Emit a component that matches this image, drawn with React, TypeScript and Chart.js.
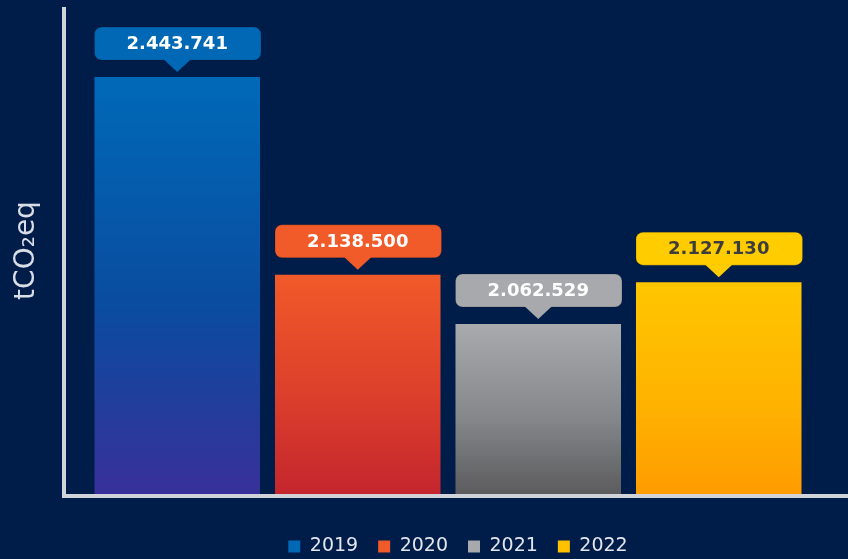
import { useEffect, useRef } from "react";
import { Chart, registerables } from "chart.js";

Chart.register(...registerables);

const categories = ["2019", "2020", "2021", "2022"];
const emissions = [2443741, 2138500, 2062529, 2127130];
const yMin = 1800000;
const yMax = 2552000;
const axisTitle = "tCO₂eq";

const barTopColors = ["#0069b8", "#f15a29", "#a8aaad", "#ffc600"];
const barMidColors = ["#0a4c9f", "#dc3f2b", "#85878a", "#ffb400"];
const barBottomColors = ["#38309a", "#c4262e", "#5c5c5e", "#ff9c00"];
const labelBoxColors = ["#0068b5", "#f15a29", "#a7a9ac", "#ffcc00"];
const labelTextColors = ["#ffffff", "#ffffff", "#ffffff", "#3d3d3d"];
const legendColors = ["#0068b5", "#f15a29", "#a7a9ac", "#ffc200"];

const BG = "#001d4a";
const AXIS = "#d0d3da";

function formatValue(v: number): string {
  return String(v).replace(/\B(?=(\d{3})+(?!\d))/g, ".");
}

const axisLinesPlugin = {
  id: "axisLines",
  beforeDatasetsDraw(chart: any) {
    const { ctx, chartArea } = chart;
    ctx.save();
    ctx.fillStyle = AXIS;
    const xLine = chartArea.left - 25;
    ctx.fillRect(xLine, chartArea.top, 4, chartArea.bottom - chartArea.top + 4);
    ctx.fillRect(xLine, chartArea.bottom, chart.width - xLine, 4);
    ctx.restore();
  },
};

const calloutPlugin = {
  id: "callouts",
  afterDatasetsDraw(chart: any) {
    const { ctx } = chart;
    const meta = chart.getDatasetMeta(0);
    meta.data.forEach((bar: any, i: number) => {
      const { x, y, width } = bar.getProps(["x", "y", "width"], true);
      const left = x - width / 2;
      const boxW = width + 1;
      const top = y - 50;
      const bottom = y - 17;
      const r = 7;
      ctx.save();
      ctx.fillStyle = labelBoxColors[i];
      ctx.strokeStyle = "rgba(0,0,0,0.18)";
      ctx.lineWidth = 1;
      ctx.beginPath();
      ctx.roundRect(left, top, boxW, bottom - top, r);
      ctx.fill();
      ctx.stroke();
      ctx.beginPath();
      ctx.moveTo(x - 14, bottom - 1);
      ctx.lineTo(x + 14, bottom - 1);
      ctx.lineTo(x, y - 5);
      ctx.closePath();
      ctx.fill();
      ctx.fillStyle = labelTextColors[i];
      ctx.font = "bold 18px 'DejaVu Sans'";
      ctx.textAlign = "center";
      ctx.textBaseline = "middle";
      ctx.fillText(formatValue(emissions[i]), x, (top + bottom) / 2 + 1);
      ctx.restore();
    });
  },
};

const legendShiftPlugin = {
  id: "legendShift",
  afterLayout(chart: any) {
    if (chart.legend) {
      chart.legend.left += 10;
      chart.legend.right += 10;
      chart.legend.top += 15;
      chart.legend.bottom += 15;
    }
  },
};

export default function App() {
  const ref = useRef<HTMLCanvasElement | null>(null);

  useEffect(() => {
    if (!ref.current) return;
    const chart = new Chart(ref.current, {
      type: "bar",
      data: {
        labels: categories,
        datasets: [
          {
            label: "tCO2eq",
            data: emissions,
            borderWidth: 0,
            barPercentage: 1,
            categoryPercentage: 0.917,
            backgroundColor: (c: any) => {
              const i = c.dataIndex;
              const chartRef = c.chart;
              const area = chartRef.chartArea;
              const ys = chartRef.scales?.y;
              if (!area || !ys || i === undefined) return barTopColors[i ?? 0];
              const yTop = ys.getPixelForValue(emissions[i]);
              const g = chartRef.ctx.createLinearGradient(0, yTop, 0, area.bottom);
              g.addColorStop(0, barTopColors[i]);
              g.addColorStop(0.55, barMidColors[i]);
              g.addColorStop(1, barBottomColors[i]);
              return g;
            },
          },
        ],
      },
      options: {
        responsive: false,
        animation: false,
        layout: { padding: { top: 7, right: 39, left: 0, bottom: 8 } },
        scales: {
          x: {
            grid: { display: false },
            border: { display: false },
            ticks: { display: false },
          },
          y: {
            min: yMin,
            max: yMax,
            grid: { display: false },
            border: { display: false },
            ticks: { display: false },
            title: {
              display: true,
              text: axisTitle,
              color: "#d9dde6",
              font: { family: "'DejaVu Sans'", size: 28, weight: "normal" },
              padding: { top: 10, bottom: 0 },
            },
            afterFit: (scale: any) => {
              scale.width = 87;
            },
          },
        },
        plugins: {
          tooltip: { enabled: false },
          legend: {
            display: true,
            position: "bottom",
            fullSize: false,
            labels: {
              boxWidth: 12,
              boxHeight: 12,
              padding: 20,
              color: "#e2e6ee",
              font: { family: "'DejaVu Sans'", size: 19, weight: "normal" },
              generateLabels: () =>
                categories.map((cat, i) => ({
                  text: cat,
                  fillStyle: legendColors[i],
                  strokeStyle: legendColors[i],
                  lineWidth: 0,
                  fontColor: "#e2e6ee",
                  hidden: false,
                  index: i,
                  datasetIndex: 0,
                })),
            },
          },
        },
      },
      plugins: [axisLinesPlugin, calloutPlugin, legendShiftPlugin],
    } as any);
    return () => chart.destroy();
  }, []);

  return (
    <div
      style={{
        position: "fixed",
        left: 0,
        top: 0,
        width: 848,
        height: 559,
        background: BG,
        overflow: "hidden",
      }}
    >
      <canvas ref={ref} width={848} height={559} style={{ display: "block" }} />
    </div>
  );
}
